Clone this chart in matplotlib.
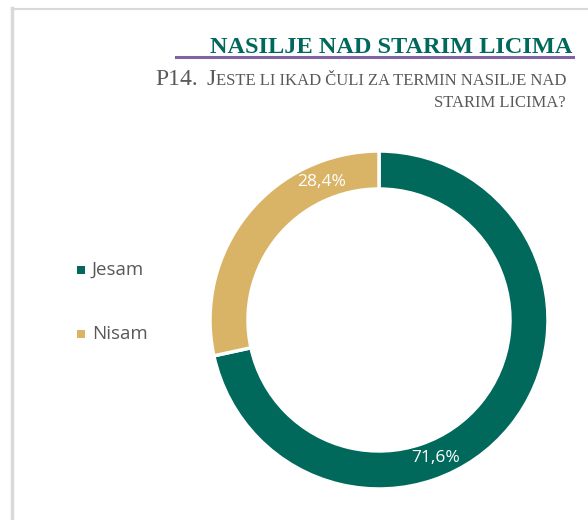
import matplotlib

matplotlib.use("Agg")

import matplotlib.pyplot as plt
import numpy as np
from matplotlib.lines import Line2D
from matplotlib.patches import Rectangle

categories = ["Jesam", "Nisam"]
shares = [71.6, 28.4]
colors = ["#00695c", "#d9b467"]
title = "NASILJE NAD STARIM LICIMA"
question_no = "P14."
question_1 = "ESTE LI IKAD ČULI ZA TERMIN NASILJE NAD"
question_2 = "STARIM LICIMA?"

W, H = 588, 520
fig = plt.figure(figsize=(W / 100, H / 100), dpi=100)
fig.patch.set_facecolor("white")


def px(x, y):
    return x / W, 1 - y / H


# light frame of the chart area
fig.add_artist(Line2D([12 / W, 12 / W], [0, 1 - 8 / H], color="#d9d9d9", linewidth=2.5,
                      transform=fig.transFigure))
fig.add_artist(Line2D([12 / W, 1], [1 - 8.5 / H, 1 - 8.5 / H], color="#d9d9d9", linewidth=1.5,
                      transform=fig.transFigure))

# title and underline
fig.text(*px(572, 53), title, ha="right", va="baseline", fontsize=17.5,
         fontweight="bold", family="Liberation Serif", color="#00695c")
fig.add_artist(Line2D([176 / W, 573 / W], [1 - 57 / H, 1 - 57 / H], color="#8064a2",
                      linewidth=2.2, transform=fig.transFigure))

# subtitle in small caps
grey = "#595959"
renderer = fig.canvas.get_renderer()
x_right = 566
t = fig.text(*px(x_right, 85), question_1, ha="right", va="baseline", fontsize=12,
             family="Liberation Serif", color=grey)
w1 = t.get_window_extent(renderer).width
t2 = fig.text(*px(x_right - w1, 85), "J", ha="right", va="baseline", fontsize=17,
              family="Liberation Serif", color=grey)
w2 = t2.get_window_extent(renderer).width
fig.text(*px(x_right - w1 - w2 - 8, 85), question_no, ha="right", va="baseline",
         fontsize=17, family="Liberation Serif", color=grey)
fig.text(*px(x_right, 107), question_2, ha="right", va="baseline", fontsize=12,
         family="Liberation Serif", color=grey)

# donut
cx, cy, r = 379, 320, 169
half = 200
ax = fig.add_axes([(cx - half) / W, 1 - (cy + half) / H, 2 * half / W, 2 * half / H])
lim = half / r
ax.axis("off")
wedges, _ = ax.pie(shares, colors=colors, startangle=90, counterclock=False, radius=1,
                   wedgeprops=dict(width=0.225, edgecolor="white", linewidth=2.5))
ax.set_aspect("equal")
ax.set_xlim(-lim, lim)
ax.set_ylim(-lim, lim)

label_angles = [-67.5, 112.5]
for share, ang in zip(shares, label_angles):
    a = np.deg2rad(ang)
    ax.text(0.882 * np.cos(a), 0.882 * np.sin(a), f"{share:.1f}%".replace(".", ","),
            ha="center", va="center", color="white", fontsize=12.5, family="Open Sans")

# legend
for i, (name, col) in enumerate(zip(categories, colors)):
    y = 270 + i * 64
    fig.add_artist(Rectangle((77 / W, 1 - (y + 4) / H), 8 / W, 8 / H, facecolor=col,
                             edgecolor="none", transform=fig.transFigure))
    fig.text(*px(92, y), name, ha="left", va="center", fontsize=13.5,
             family="Open Sans", color=grey)

fig.savefig("out.png", dpi=100)
